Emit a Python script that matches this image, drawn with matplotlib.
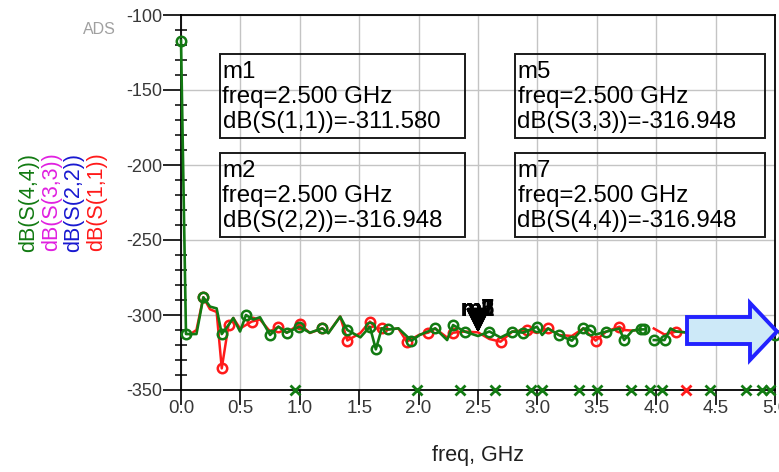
import matplotlib
matplotlib.use('Agg')
import matplotlib.pyplot as plt
import numpy as np
from matplotlib.patches import Polygon, Rectangle

plt.rcParams['font.family'] = ['Liberation Sans', 'DejaVu Sans']

nan = np.nan

# ---------------- data ----------------
# S(4,4) trace (green): frequency (GHz), dB value, symbol flag
g_f = [0.000, 0.042, 0.13, 0.188, 0.244, 0.30, 0.343, 0.40, 0.44, 0.497,
       0.547, 0.609, 0.665, 0.75, 0.82, 0.89, 0.996, 1.085, 1.19, 1.24,
       1.34, 1.40, 1.51, 1.59, 1.64, 1.69, 1.745, 1.83, 1.94, 2.01,
       2.14, 2.24, 2.29, 2.39, 2.50, 2.596, 2.69, 2.79, 2.88, 2.996,
       3.04, 3.09, 3.18, 3.29, 3.386, 3.44, 3.49, 3.58, 3.69, 3.73,
       3.80, 3.87, 3.90, 3.94, 3.98, 4.07, 4.12, 4.17, 4.30, 4.45,
       4.60, 4.75, 4.90, 5.00]
g_v = [-117, -312.7, -312.7, -288.2, -294.4, -295.6, -312.7, -306.7, -302, -311,
       -300, -303, -301.5, -313.3, -307.8, -311.8, -307.8, -311.8, -308.9, -312.2,
       -301.1, -310, -314.9, -307.8, -322.9, -308.9, -309.6, -308.9, -317.1, -313.3,
       -308.9, -316.7, -306.7, -311.1, -314, -311, -315, -311, -311.8, -307.8,
       -313.3, -309, -313.3, -317.1, -308.9, -310, -313, -311.1, -309, -316.7,
       -310.4, -309.6, -309.6, nan, -316.7, -316.7, -309, -311, -312, -311,
       -313, -312, -311, -313.3]
g_sym = [1, 1, 0, 1, 0, 0, 1, 0, 0, 0,
         1, 0, 0, 1, 0, 1, 1, 0, 1, 0,
         0, 1, 0, 1, 1, 0, 1, 0, 1, 0,
         1, 0, 1, 1, 0, 1, 0, 1, 1, 1,
         0, 0, 1, 1, 1, 1, 0, 1, 0, 1,
         0, 1, 1, 0, 1, 1, 0, 0, 0, 0,
         0, 0, 0, 1]

# S(1,1) trace (red)
r_f = [0.076, 0.13, 0.188, 0.244, 0.30, 0.343, 0.40, 0.44, 0.497, 0.595,
       0.665, 0.75, 0.82, 0.89, 1.0, 1.085, 1.19, 1.24, 1.34, 1.40,
       1.51, 1.59, 1.64, 1.69, 1.745, 1.83, 1.90, 2.01, 2.08, 2.14,
       2.24, 2.29, 2.39, 2.50, 2.596, 2.69, 2.79, 2.91, 2.996, 3.09,
       3.18, 3.29, 3.386, 3.49, 3.58, 3.69, 3.73, 3.80, 3.87, 3.92,
       3.98, 4.07, 4.17, 4.30, 4.45, 4.60, 4.75, 4.90]
r_v = [-312.9, -310, -288.2, -296.2, -298, -335.6, -306.7, -302, -309, -304.4,
       -303, -311, -307.8, -311.8, -306, -312, -308.9, -312, -301, -317,
       -312, -304.4, -309, -308.9, -309.6, -309, -317.8, -313, -311.8, -309,
       -315, -311.8, -311, -311.58, -316, -317.8, -311, -310, -312, -308.9,
       -313.3, -314, -309, -317.1, -311, -307.8, -310, -310.4, -309.6, nan,
       -309, -313, -311, -312, -310, -312, -311, -312]
r_sym = [0, 0, 1, 0, 0, 1, 1, 0, 0, 1,
         0, 0, 1, 0, 1, 0, 1, 0, 0, 1,
         0, 1, 0, 1, 0, 0, 1, 0, 1, 0,
         0, 1, 0, 0, 0, 1, 0, 1, 0, 1,
         0, 0, 0, 1, 0, 1, 0, 0, 0, 0,
         0, 0, 1, 0, 0, 0, 0, 0]

# points below the display range (drawn on the bottom axis)
g_low_f = [0.957, 1.99, 2.35, 2.64, 2.95, 3.04, 3.35, 3.50, 3.79, 3.95,
           4.05, 4.45, 4.76, 4.89, 4.96]
r_low_f = [4.25]
low_level = -350

# marker readouts
mk_names = ['m1', 'm2', 'm5', 'm7']
mk_traces = ['dB(S(1,1))', 'dB(S(2,2))', 'dB(S(3,3))', 'dB(S(4,4))']
mk_freq = [2.5, 2.5, 2.5, 2.5]
mk_vals = [-311.580, -316.948, -316.948, -316.948]

x_ticks = [0.0, 0.5, 1.0, 1.5, 2.0, 2.5, 3.0, 3.5, 4.0, 4.5, 5.0]
x_tick_labels = ['0.0', '0.5', '1.0', '1.5', '2.0', '2.5', '3.0', '3.5', '4.0', '4.5', '5.0']
y_ticks = [-350, -300, -250, -200, -150, -100]
y_tick_labels = ['-350', '-300', '-250', '-200', '-150', '-100']

ylabels = ['dB(S(4,4))', 'dB(S(3,3))', 'dB(S(2,2))', 'dB(S(1,1))']

# ---------------- style ----------------
GREEN = '#127a12'
RED = '#ff1a1a'
MAGENTA = '#e020e0'
BLUE = '#1818d0'
ylabel_colors = [GREEN, MAGENTA, BLUE, RED]

W, H = 779, 472
fig = plt.figure(figsize=(W / 100, H / 100), dpi=100)
AX_L, AX_R, AX_T, AX_B = 181, 775, 15, 390
ax = fig.add_axes([AX_L / W, 1 - AX_B / H, (AX_R - AX_L) / W, (AX_B - AX_T) / H])


def ax_frac(px, py):
    return ((px - AX_L) / (AX_R - AX_L), (AX_B - py) / (AX_B - AX_T))


ax.set_xlim(0, 5)
ax.set_ylim(-350, -100)

ax.set_xticks(x_ticks)
ax.set_xticklabels(x_tick_labels)
ax.set_yticks(y_ticks)
ax.set_yticklabels(y_tick_labels)
ax.set_yticks(np.arange(-350, -99, 10), minor=True)

ax.grid(True, which='major', color='#c4c4c4', lw=1.0, zorder=0)
ax.set_axisbelow(True)
for s in ax.spines.values():
    s.set_color('black')
    s.set_linewidth(1.3)

ax.tick_params(axis='y', which='major', direction='out', length=13, width=1.2,
               pad=0.5, labelsize=13, labelcolor='#383838', color='black')
ax.tick_params(axis='y', which='minor', direction='inout', length=9, width=1.1, color='black')
ax.tick_params(axis='x', which='major', direction='out', length=10.5, width=1.2,
               pad=-3, labelsize=13.5, labelcolor='#383838', color='black')

# traces
r_idx = [i for i, s in enumerate(r_sym) if s]
g_idx = [i for i, s in enumerate(g_sym) if s]
ax.plot(r_f, r_v, color=RED, lw=1.8, marker='o', ms=6.8, mfc='none', mew=1.8,
        markevery=r_idx, zorder=3, clip_on=False)
ax.plot(g_f, g_v, color=GREEN, lw=1.9, marker='o', ms=6.8, mfc='none', mew=1.8,
        markevery=g_idx, zorder=4, clip_on=False)

ax.plot(g_low_f, [low_level] * len(g_low_f), linestyle='none', marker='x', ms=7.5,
        mew=2.0, color=GREEN, zorder=5, clip_on=False)
ax.plot(r_low_f, [low_level] * len(r_low_f), linestyle='none', marker='x', ms=7.5,
        mew=2.0, color=RED, zorder=5, clip_on=False)

# marker arrows and labels at the trace
for name, f, v in zip(mk_names, mk_freq, mk_vals):
    ax.annotate('', xy=(f, mk_vals[0]), xytext=(f, mk_vals[0] + 11),
                arrowprops=dict(arrowstyle='-|>,head_length=0.9,head_width=0.45',
                                color='black', lw=2.0,
                                mutation_scale=16, shrinkA=0, shrinkB=0),
                zorder=6)
    ax.text(f, -296, name, ha='center', va='center', fontsize=17, fontweight='bold',
            color='black', zorder=6)

# marker readout boxes
boxes = [(220, 54, 465, 138), (220, 153, 465, 237), (515, 54, 765, 138), (515, 153, 765, 237)]
order = [0, 1, 2, 3]
for (x0, y0, x1, y1), k in zip(boxes, order):
    fx0, fy1 = ax_frac(x0, y1)
    fx1, fy0 = ax_frac(x1, y0)
    ax.add_patch(Rectangle((fx0, fy1), fx1 - fx0, fy0 - fy1, transform=ax.transAxes,
                           fill=False, ec='#1a1a1a', lw=1.4, zorder=7))
    lines = [mk_names[k], 'freq=%.3f GHz' % mk_freq[k], '%s=%.3f' % (mk_traces[k], mk_vals[k])]
    for j, t in enumerate(lines):
        tx, ty = ax_frac(x0 + 2.5, y0 + 18 + 25 * j)
        ax.text(tx, ty, t, transform=ax.transAxes, ha='left', va='center',
                fontsize=17.3, color='black', zorder=7)

# axis labels
ax.set_xlabel('freq, GHz', fontsize=15.5, color='#202020')
ax.xaxis.set_label_coords(0.5, (AX_B - 456) / (AX_B - AX_T))
ax.xaxis.label.set_va('center')

ylab_x = [29, 52, 74, 97]
for t, c, xp in zip(ylabels, ylabel_colors, ylab_x):
    fig.text(xp / W, 1 - 202 / H, t, rotation=90, color=c, fontsize=15.5,
             ha='center', va='center')

fig.text(99 / W, 1 - 30 / H, 'ADS', color='#a0a0a0', fontsize=11.5, ha='center', va='center')

# overlay arrow (figure pixel coordinates)
arrow_px = [(687, 317), (750, 317), (750, 303), (777, 331.5), (750, 360), (750, 344), (687, 344)]
arrow_fig = [(x / W, 1 - y / H) for x, y in arrow_px]
fig.add_artist(Polygon(arrow_fig, closed=True, transform=fig.transFigure,
                       fc='#cde9f8', ec='#2222ff', lw=2.8, zorder=20))

fig.savefig('out.png', dpi=100)
